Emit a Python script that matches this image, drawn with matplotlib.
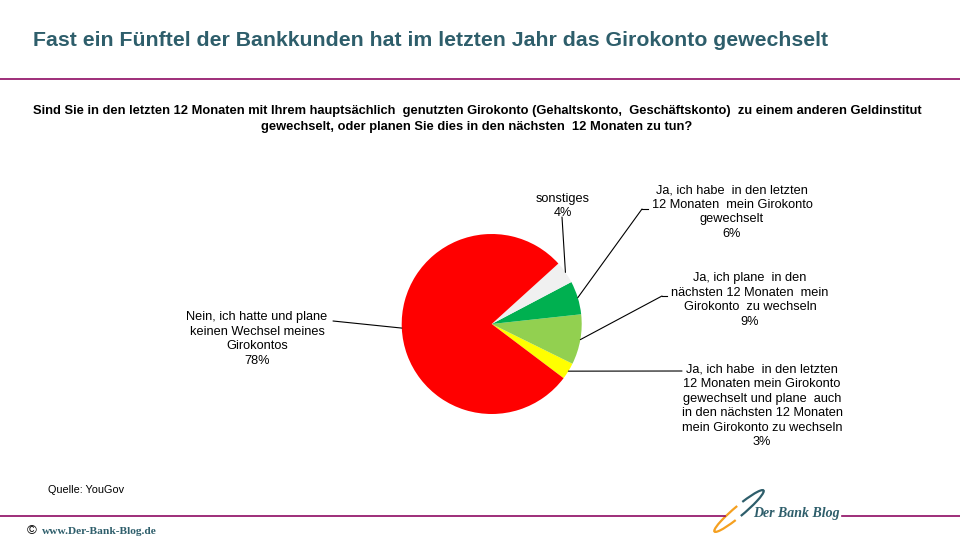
import numpy as np
import matplotlib
matplotlib.use("Agg")
import matplotlib.pyplot as plt
from matplotlib.patches import Arc

# survey answers, in pie order (counter-clockwise from the yellow slice)
answers = [
    "Ja, ich habe  in den letzten\n12 Monaten mein Girokonto\ngewechselt und plane  auch\nin den nächsten 12 Monaten\nmein Girokonto zu wechseln",
    "Ja, ich plane  in den\nnächsten 12 Monaten  mein\nGirokonto  zu wechseln",
    "Ja, ich habe  in den letzten\n12 Monaten  mein Girokonto\ngewechselt",
    "sonstiges",
    "Nein, ich hatte und plane\nkeinen Wechsel meines\nGirokontos",
]
shares = [3, 9, 6, 4, 78]
colors = ["#FFFF00", "#92D050", "#00B050", "#F0F0F0", "#FF0000"]

title = "Fast ein Fünftel der Bankkunden hat im letzten Jahr das Girokonto gewechselt"
question = ("Sind Sie in den letzten 12 Monaten mit Ihrem hauptsächlich  genutzten Girokonto (Gehaltskonto,  Geschäftskonto)  zu einem anderen Geldinstitut\n"
            "gewechselt, oder planen Sie dies in den nächsten  12 Monaten zu tun?")

W, H = 960, 540
plt.rcParams['font.family'] = ['Liberation Sans', 'DejaVu Sans']
fig = plt.figure(figsize=(9.6, 5.4), dpi=100)

# background axes in image pixel coordinates (y pointing down)
bg = fig.add_axes([0, 0, 1, 1])
bg.set_xlim(0, W)
bg.set_ylim(H, 0)
bg.axis('off')

teal = "#2E5E6B"
purple = "#8E0A62"

bg.text(33, 41, title, fontsize=15.3, fontweight='bold', color=teal, va='center', ha='left')
bg.plot([0, W], [79, 79], color=purple, lw=1.2)
bg.text(477, 119, question, fontsize=9.3, fontweight='bold', ha='center', va='center',
        linespacing=1.45)

bg.text(48, 490, "Quelle: YouGov", fontsize=7.8, va='center')
bg.plot([0, 725], [516, 516], color=purple, lw=1.2)
bg.plot([842, W], [516, 516], color=purple, lw=1.2)
bg.text(27, 531, "©", fontsize=9.5, va='center', ha='left')
bg.text(42, 532, "www.Der-Bank-Blog.de", fontsize=8.2, fontweight='bold', color=teal,
        family='Liberation Serif', va='center', ha='left')

# logo swoosh
bg.add_patch(Arc((739, 511), 64, 10, angle=-40, theta1=-30, theta2=110, color=teal, lw=1.6))
bg.add_patch(Arc((739, 511), 64, 10, angle=-40, theta1=150, theta2=290, color="#F5A020", lw=1.6))
bg.text(796, 514, "Der Bank Blog", fontsize=10, fontweight='bold', style='italic', color=teal,
        family='Liberation Serif', ha='center', va='center')

# pie
cx, cy, r = 491.7, 324, 90
ax = fig.add_axes([(cx - r) / W, 1 - (cy + r) / H, 2 * r / W, 2 * r / H])
wedges, _ = ax.pie(shares, colors=colors, startangle=-37, counterclock=True,
                   wedgeprops=dict(linewidth=0))
ax.set_xlim(-1, 1)
ax.set_ylim(-1, 1)
ax.set_aspect('equal')

# label layout: elbow point, end of horizontal tail, text centre (image px)
layout = [
    ((682, 371), (682, 371), (762, 406)),
    ((662, 296), (667, 296), (750, 300)),
    ((642, 209), (648, 209), (732, 212)),
    ((562, 217), (562, 217), (563, 206)),
    ((333, 321), (333, 321), (257, 339)),
]

for w, ans, pct, (elbow, tail, tpos) in zip(wedges, answers, shares, layout):
    mid = np.deg2rad((w.theta1 + w.theta2) / 2)
    anchor = (np.cos(mid), np.sin(mid))
    ax.annotate("", xy=anchor, xycoords='data',
                xytext=(elbow[0], H - elbow[1]), textcoords='figure pixels',
                arrowprops=dict(arrowstyle='-', lw=0.8, color='black', shrinkA=0, shrinkB=0),
                annotation_clip=False)
    if tail != elbow:
        bg.plot([elbow[0], tail[0]], [elbow[1], tail[1]], color='black', lw=0.8)
    bg.text(tpos[0], tpos[1], f"{ans}\n{pct}%", fontsize=9.2, ha='center', va='center',
            linespacing=1.27)

fig.savefig("out.png", dpi=100)
